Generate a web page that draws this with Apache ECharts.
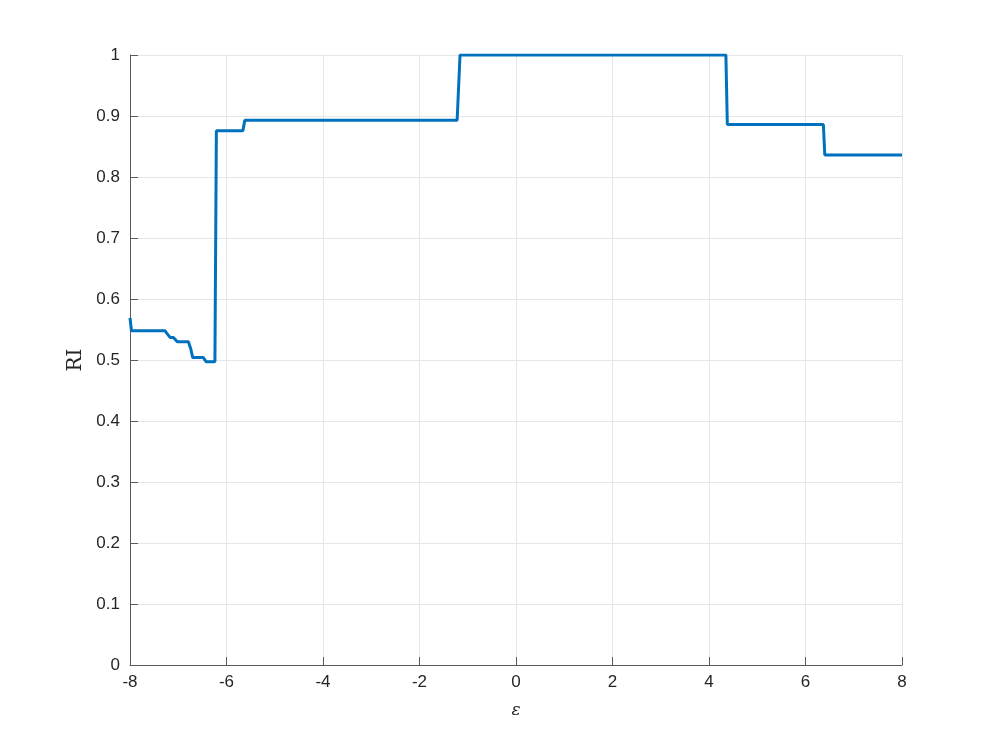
<!DOCTYPE html>
<html>
<head>
<meta charset="utf-8">
<script src="https://cdn.jsdelivr.net/npm/echarts@6/dist/echarts.min.js"></script>
<style>
  html, body { margin: 0; padding: 0; background: #fff; }
  #main { width: 997px; height: 747px; }
</style>
</head>
<body>
<div id="main"></div>
<script>
// epsilon values and RI
var epsValues = [-8, -7.97, -7.275, -7.24, -7.17, -7.10, -7.02, -6.79, -6.74, -6.70, -6.48, -6.42, -6.24,
  -6.21, -5.66, -5.62, -1.22, -1.16, 4.35, 4.38, 6.37, 6.40, 8];
var riValues = [0.569, 0.548, 0.548, 0.544, 0.537, 0.537, 0.530, 0.530, 0.518, 0.504, 0.504, 0.497, 0.497,
  0.876, 0.876, 0.893, 0.893, 1.0, 1.0, 0.886, 0.886, 0.836, 0.836];

var xTicks = [-8, -6, -4, -2, 0, 2, 4, 6, 8];
var yTicks = [0, 0.1, 0.2, 0.3, 0.4, 0.5, 0.6, 0.7, 0.8, 0.9, 1];

var points = epsValues.map(function (x, i) { return [x, riValues[i]]; });

var myChart = echarts.init(document.getElementById('main'));
var tickFont = { color: '#262626', fontSize: 17, fontFamily: 'Liberation Sans, Arial, sans-serif' };
var axisColor = '#5a5a5a';
var option = {
  animation: false,
  grid: { left: 130, right: 95, top: 55, bottom: 82 },
  xAxis: {
    type: 'value',
    min: xTicks[0],
    max: xTicks[xTicks.length - 1],
    interval: 2,
    name: 'ε',
    nameLocation: 'middle',
    nameGap: 37,
    nameTextStyle: { fontFamily: 'DejaVu Serif, serif', fontStyle: 'italic', fontSize: 17, color: '#262626' },
    axisLine: { show: true, onZero: false, lineStyle: { color: axisColor, width: 1 } },
    // ticks pointing up into the plot
    axisTick: { show: true, inside: false, length: -8, lineStyle: { color: axisColor } },
    axisLabel: Object.assign({ margin: 9 }, tickFont),
    splitLine: { show: true, lineStyle: { color: '#e6e6e6', width: 1 } }
  },
  yAxis: {
    type: 'value',
    min: yTicks[0],
    max: yTicks[yTicks.length - 1],
    interval: 0.1,
    name: 'RI',
    nameLocation: 'middle',
    nameRotate: 90,
    nameGap: 42,
    nameTextStyle: { fontFamily: 'DejaVu Serif, serif', fontSize: 20, color: '#262626' },
    axisLine: { show: true, onZero: false, lineStyle: { color: axisColor, width: 1 } },
    axisTick: { show: true, inside: true, length: 8, lineStyle: { color: axisColor } },
    axisLabel: Object.assign({
      margin: 10,
      formatter: function (v) { return String(Math.round(v * 10) / 10); }
    }, tickFont),
    splitLine: { show: true, lineStyle: { color: '#e6e6e6', width: 1 } }
  },
  series: [
    {
      type: 'line',
      data: points,
      showSymbol: false,
      symbol: 'none',
      lineStyle: { color: '#0072BD', width: 3 },
      z: 5
    }
  ]
};
myChart.setOption(option);
</script>
</body>
</html>
